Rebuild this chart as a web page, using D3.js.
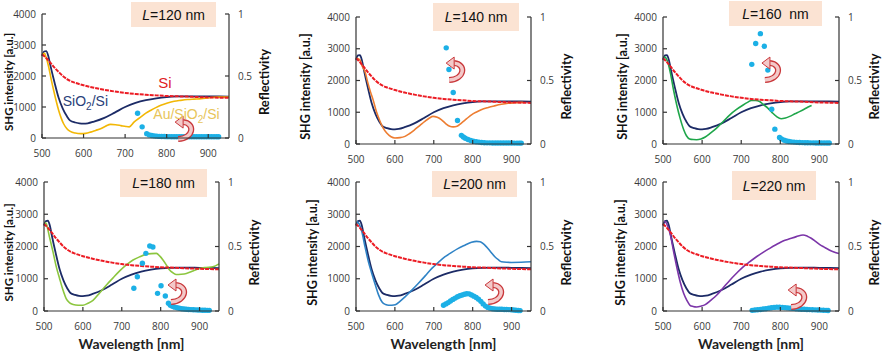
<!DOCTYPE html>
<html>
<head>
<meta charset="utf-8">
<script src="https://cdn.jsdelivr.net/npm/d3@7"></script>
<style>
body{margin:0;background:#fff;}
svg{display:block;}
</style>
</head>
<body>
<svg id="chart" width="883" height="352"></svg>
<script>

// ---------- data ----------
var wlTicks=[500,600,700,800,900];
var shgTicks=[0,1000,2000,3000,4000];
var reflTicks=[0,0.5,1];
var reflTickLabels=["0","0.5","1"];
var lengthLabels=["=120 nm","=140 nm","=160  nm","=180 nm","=200 nm","=220 nm"];

// Si reference (red)
var siCurve=[[500,2700],[510,2580],[520,2430],[530,2270],[540,2130],[550,2000],[560,1900],[570,1830],[580,1780],[600,1700],[625,1620],[650,1555],[675,1500],[700,1455],[725,1420],[750,1395],[775,1375],[800,1355],[825,1345],[850,1335],[875,1320],[900,1310],[925,1300],[950,1295]];

// SiO2/Si reference (navy)
var sio2Curve=[[500,2650],[505,2790],[510,2800],[515,2650],[520,2350],[530,1800],[540,1300],[550,950],[560,700],[568,560],[580,500],[590,470],[600,462],[610,475],[625,530],[650,650],[675,820],[700,1000],[725,1130],[750,1220],[775,1280],[800,1320],[825,1340],[850,1345],[875,1345],[900,1340],[925,1340],[950,1330]];

// Au/SiO2/Si for each L
var au120=[[502,2700],[506,2730],[510,2600],[516,2300],[522,1900],[528,1540],[534,1200],[540,895],[546,650],[552,460],[560,300],[568,215],[580,160],[593,140],[605,150],[617,190],[629,245],[641,300],[653,380],[665,440],[677,430],[690,400],[702,370],[710,360],[722,520],[738,680],[750,800],[762,895],[774,980],[786,1055],[802,1130],[818,1185],[834,1215],[850,1240],[866,1255],[883,1270],[903,1300],[923,1320],[950,1320]];
var au140=[[502,2700],[510,2650],[516,2450],[523,2280],[530,1950],[537,1650],[544,1390],[553,1000],[562,710],[570,500],[579,345],[590,230],[600,190],[613,200],[626,240],[638,330],[651,450],[664,580],[677,710],[688,810],[698,870],[709,840],[720,760],[730,650],[741,560],[750,540],[760,560],[771,660],[784,790],[797,920],[810,1010],[822,1080],[840,1150],[856,1200],[874,1250],[891,1285],[908,1300],[930,1315]];
var au160=[[503,2750],[508,2700],[514,2500],[519,2230],[527,1700],[536,1180],[544,800],[553,450],[560,260],[568,160],[577,140],[586,136],[597,160],[608,220],[622,350],[637,500],[654,710],[671,920],[688,1090],[705,1230],[716,1310],[726,1370],[737,1370],[747,1340],[757,1240],[768,1130],[779,990],[790,870],[802,795],[813,820],[824,870],[837,950],[849,1020],[862,1100],[874,1180],[880,1210]];
var au180=[[503,2750],[506,2700],[514,2300],[523,1840],[531,1400],[540,1010],[548,680],[557,385],[566,250],[575,200],[588,180],[600,178],[613,240],[626,330],[643,560],[660,800],[677,1020],[694,1236],[711,1420],[729,1580],[746,1680],[763,1756],[776,1780],[789,1787],[798,1700],[806,1580],[815,1420],[823,1270],[832,1180],[840,1130],[853,1140],[866,1165],[883,1240],[900,1320],[917,1350],[934,1370],[950,1460]];
var au200=[[502,2780],[508,2700],[515,2460],[523,2000],[532,1527],[541,1150],[550,800],[558,500],[567,280],[576,200],[584,177],[592,180],[601,197],[613,300],[626,436],[643,640],[660,852],[678,1090],[695,1320],[712,1510],[729,1683],[746,1820],[763,1943],[780,2040],[797,2130],[810,2160],[819,2150],[827,2090],[835,1995],[846,1840],[857,1683],[866,1590],[874,1527],[887,1510],[900,1506],[925,1510],[950,1527]];
var au220=[[503,2780],[508,2740],[513,2600],[519,2358],[527,1850],[536,1319],[544,900],[553,540],[561,330],[569,177],[577,140],[586,125],[597,150],[608,197],[622,330],[637,488],[654,720],[671,956],[688,1170],[705,1371],[722,1530],[739,1683],[756,1820],[773,1943],[790,2060],[807,2171],[824,2240],[841,2306],[858,2358],[869,2320],[879,2255],[890,2160],[900,2068],[912,1980],[925,1891],[937,1830],[950,1780]];

// reflectivity (cyan dots, right axis)
var refl120=[[730,0.20],[741,0.09],[752,0.035],[758,0.025],[764,0.02],[770,0.017],[776,0.015],[782,0.013],[788,0.012],[794,0.012],[800,0.011],[806,0.011],[812,0.01],[818,0.01],[824,0.01],[830,0.01],[836,0.01],[842,0.01],[848,0.01],[854,0.01],[860,0.01],[866,0.01],[872,0.01],[878,0.01],[884,0.01],[890,0.01],[896,0.01],[902,0.01],[908,0.01],[914,0.01],[920,0.01],[925,0.01]];
var refl140=[[732,0.757],[739,0.587],[750,0.405],[761,0.185],[771,0.068],[776,0.055],[781,0.045],[788,0.035],[795,0.028],[802,0.022],[809,0.018],[816,0.015],[823,0.012],[830,0.01],[837,0.009],[844,0.009],[851,0.008],[858,0.008],[865,0.008],[872,0.008],[879,0.008],[886,0.008],[893,0.008],[900,0.008],[907,0.007],[914,0.007],[920,0.007],[925,0.007]];
var refl160=[[727,0.627],[737,0.791],[749,0.869],[759,0.770],[768,0.582],[778,0.274],[786,0.117],[798,0.052],[803,0.04],[810,0.03],[816,0.024],[822,0.02],[828,0.017],[835,0.015],[842,0.013],[849,0.012],[856,0.011],[863,0.01],[870,0.01],[877,0.009],[884,0.009],[891,0.008],[898,0.008],[905,0.008],[912,0.008],[919,0.008],[925,0.008]];
var refl180=[[731,0.176],[740,0.266],[753,0.37],[762,0.447],[772,0.504],[780,0.496],[792,0.137],[801,0.196],[812,0.116],[820,0.06],[825,0.045],[830,0.036],[836,0.03],[842,0.025],[848,0.021],[854,0.018],[860,0.016],[866,0.014],[872,0.012],[878,0.011],[884,0.01],[890,0.009],[896,0.008],[902,0.007],[908,0.006],[914,0.006],[920,0.005],[925,0.005]];
var refl200=[[725,0.044],[731,0.055],[737,0.065],[743,0.077],[749,0.09],[755,0.1],[761,0.11],[767,0.118],[773,0.124],[779,0.13],[785,0.134],[791,0.133],[797,0.125],[803,0.115],[809,0.105],[815,0.092],[821,0.075],[827,0.055],[833,0.038],[839,0.028],[845,0.022],[851,0.018],[857,0.015],[863,0.014],[869,0.013],[875,0.013],[881,0.012],[887,0.012],[893,0.011],[899,0.01],[905,0.008],[911,0.006],[917,0.004],[922,0.003]];
var refl220=[[728,0.005],[735,0.008],[742,0.01],[749,0.012],[756,0.015],[763,0.018],[770,0.022],[777,0.025],[784,0.028],[791,0.03],[798,0.03],[805,0.028],[812,0.026],[819,0.024],[826,0.022],[833,0.02],[840,0.018],[847,0.016],[854,0.014],[861,0.013],[868,0.012],[875,0.011],[882,0.01],[889,0.009],[896,0.008],[903,0.007],[910,0.006],[917,0.005],[922,0.004]];

// where the curved arrow sits, in data units [wavelength, SHG]
var arrowSpots=[[842,320],[755,2360],[776,2360],[842,620],[855,620],[843,465]];

// ---------- layout ----------
// yTitleX = baseline x of the rotated "SHG intensity" title
var panels=[
	{l:42, r:229,t:14, b:138,box:[131,2,85,25], col:"#f2b705",au:au120,refl:refl120,xTitle:false,yTitleX:12.5,yTitleSize:11.5},
	{l:356,r:531,t:17, b:144,box:[433,3,86,28], col:"#ed7d31",au:au140,refl:refl140,xTitle:false,yTitleX:310,yTitleSize:12.5},
	{l:663,r:839,t:17, b:144,box:[729,1,93,25], col:"#1fa64a",au:au160,refl:refl160,xTitle:false,yTitleX:627,yTitleSize:12.5},
	{l:44, r:219,t:182,b:311,box:[120,169,87,28],col:"#8cc63f",au:au180,refl:refl180,xTitle:true,yTitleX:12.5,yTitleSize:11.5},
	{l:356,r:531,t:182,b:311,box:[432,171,85,26],col:"#2f83c6",au:au200,refl:refl200,xTitle:true,yTitleX:317,yTitleSize:12.5},
	{l:663,r:839,t:182,b:311,box:[732,171,84,29],col:"#7b35a8",au:au220,refl:refl220,xTitle:true,yTitleX:625,yTitleSize:12.5}
];

var svg=d3.select("#chart");
var axisCol="#333";
var tickFont="'Open Sans', sans-serif";
var titleFont="Lato, 'Open Sans', sans-serif";

function drawArrow(g,cx,cy){
	var a=g.append("g").attr("transform","translate("+cx+","+cy+")");
	var curve="M -6 11 C 10 10, 11 -5, -1 -6";
	a.append("path").attr("d",curve).attr("fill","none")
		.attr("stroke","#c9383b").attr("stroke-width",6);
	a.append("path").attr("d",curve).attr("fill","none")
		.attr("stroke","#f3c9c9").attr("stroke-width",3.4);
	a.append("path").attr("d","M -9 -6 L -1 -12 L -1 0 Z")
		.attr("fill","#f3c9c9").attr("stroke","#c9383b").attr("stroke-width",1);
}

panels.forEach(function(p,i){
	var x=d3.scaleLinear().domain([500,950]).range([p.l,p.r]);
	var y=d3.scaleLinear().domain([0,4000]).range([p.b,p.t]);
	var yR=d3.scaleLinear().domain([0,1]).range([p.b,p.t]);
	var g=svg.append("g");

	// label box
	g.append("rect")
		.attr("x",p.box[0]).attr("y",p.box[1])
		.attr("width",p.box[2]).attr("height",p.box[3])
		.attr("fill","#fbe3d3");
	var lt=g.append("text")
		.attr("x",p.box[0]+p.box[2]/2).attr("y",p.box[1]+p.box[3]/2+5)
		.attr("text-anchor","middle")
		.attr("font-family","'Liberation Sans', Arial, sans-serif")
		.attr("font-size",14).attr("fill","#111")
		.style("white-space","pre");
	lt.append("tspan").attr("font-style","italic").text("L");
	lt.append("tspan").text(lengthLabels[i]);

	// curves
	var line=d3.line().x(function(d){return x(d[0]);}).y(function(d){return y(d[1]);}).curve(d3.curveMonotoneX);
	g.append("path").datum(sio2Curve).attr("d",line)
		.attr("fill","none").attr("stroke","#1c2b66").attr("stroke-width",1.8);
	g.append("path").datum(p.au).attr("d",line)
		.attr("fill","none").attr("stroke",p.col).attr("stroke-width",1.6);
	g.append("path").datum(siCurve).attr("d",line)
		.attr("fill","none").attr("stroke","#ec1c24").attr("stroke-width",2)
		.attr("stroke-dasharray","4,1");

	// reflectivity dots
	g.selectAll(".dot").data(p.refl).enter().append("circle")
		.attr("cx",function(d){return x(d[0]);})
		.attr("cy",function(d){return yR(d[1]);})
		.attr("r",2.7)
		.attr("fill","#1cb0e6");

	drawArrow(g,x(arrowSpots[i][0]),y(arrowSpots[i][1]));

	// axes
	var ax=g.append("g").attr("stroke",axisCol).attr("stroke-width",1.2);
	ax.append("line").attr("x1",p.l).attr("x2",p.l).attr("y1",p.t).attr("y2",p.b);
	ax.append("line").attr("x1",p.r).attr("x2",p.r).attr("y1",p.t).attr("y2",p.b);
	ax.append("line").attr("x1",p.l).attr("x2",p.r).attr("y1",p.b).attr("y2",p.b);
	shgTicks.forEach(function(v){
		ax.append("line").attr("x1",p.l).attr("x2",p.l+4).attr("y1",y(v)).attr("y2",y(v));
	});
	reflTicks.forEach(function(v){
		ax.append("line").attr("x1",p.r).attr("x2",p.r-4).attr("y1",yR(v)).attr("y2",yR(v));
	});
	wlTicks.forEach(function(v){
		ax.append("line").attr("x1",x(v)).attr("x2",x(v)).attr("y1",p.b).attr("y2",p.b-4);
	});

	// tick labels
	g.selectAll(".yl").data(shgTicks).enter().append("text")
		.attr("x",p.l-6).attr("y",function(d){return y(d)+3.5;})
		.attr("text-anchor","end")
		.attr("font-family",tickFont).attr("font-size",10).attr("fill","#3a3a3a")
		.text(function(d){return d;});
	g.selectAll(".rl").data(reflTicks).enter().append("text")
		.attr("x",p.r+9).attr("y",function(d){return yR(d)+3.5;})
		.attr("text-anchor","start")
		.attr("font-family",tickFont).attr("font-size",10).attr("fill","#3a3a3a")
		.text(function(d,k){return reflTickLabels[k];});
	g.selectAll(".xl").data(wlTicks).enter().append("text")
		.attr("x",function(d){return x(d);}).attr("y",p.b+19)
		.attr("text-anchor","middle")
		.attr("font-family",tickFont).attr("font-size",10).attr("fill","#3a3a3a")
		.text(function(d){return d;});

	// axis titles
	var midY=(p.t+p.b)/2+6;
	g.append("text")
		.attr("transform","translate("+(p.r+40)+","+midY+") rotate(-90)")
		.attr("text-anchor","middle")
		.attr("font-family",titleFont).attr("font-weight","bold").attr("font-size",13).attr("fill","#111")
		.text("Reflectivity");
	g.append("text")
		.attr("transform","translate("+p.yTitleX+","+midY+") rotate(-90)")
		.attr("text-anchor","middle")
		.attr("font-family",titleFont).attr("font-weight","bold").attr("font-size",p.yTitleSize).attr("fill","#111")
		.text("SHG intensity [a.u.]");
	if(p.xTitle){
		g.append("text")
			.attr("x",(p.l+p.r)/2).attr("y",349)
			.attr("text-anchor","middle")
			.attr("font-family",titleFont).attr("font-weight","bold").attr("font-size",14).attr("fill","#222")
			.text("Wavelength [nm]");
	}

	// legend-like labels in the first panel only
	if(i==0){
		g.append("text").attr("x",x(780)).attr("y",y(1620))
			.attr("font-family","'Liberation Sans', Arial, sans-serif").attr("font-size",15)
			.attr("fill","#e0201f").text("Si");
		var t1=g.append("text").attr("x",x(550)).attr("y",y(1030))
			.attr("font-family","'Liberation Sans', Arial, sans-serif").attr("font-size",14)
			.attr("fill","#2a3f7a");
		t1.append("tspan").text("SiO");
		t1.append("tspan").attr("dy",4).attr("font-size",10).text("2");
		t1.append("tspan").attr("dy",-4).text("/Si");
		var t2=g.append("text").attr("x",x(768)).attr("y",y(620))
			.attr("font-family","'Liberation Sans', Arial, sans-serif").attr("font-size",14)
			.attr("fill","#e8c55a");
		t2.append("tspan").text("Au/SiO");
		t2.append("tspan").attr("dy",4).attr("font-size",10).text("2");
		t2.append("tspan").attr("dy",-4).text("/Si");
	}
});
</script>
</body>
</html>
